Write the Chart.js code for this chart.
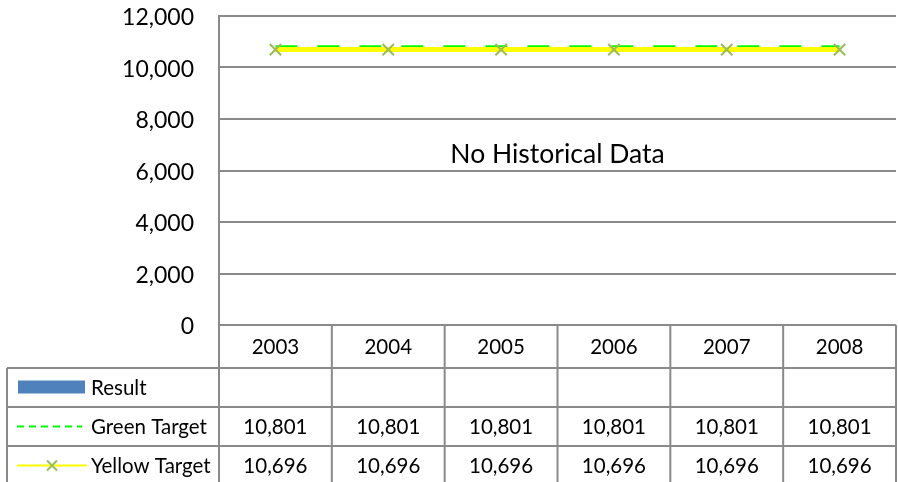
<!DOCTYPE html>
<html>
<head>
<meta charset="utf-8">
<script src="https://cdn.jsdelivr.net/npm/chart.js@4/dist/chart.umd.min.js"></script>
<style>
  html, body { margin: 0; padding: 0; background: #fff; overflow: hidden; }
  #wrap { width: 898px; height: 482px; overflow: hidden; position: relative; }
  canvas { display: block; }
</style>
</head>
<body>
<div id="wrap"><canvas id="chart" width="906" height="482"></canvas></div>
<script>
// chart data
const years = ["2003", "2004", "2005", "2006", "2007", "2008"];
const resultValues = [null, null, null, null, null, null];
const greenTarget = [10801, 10801, 10801, 10801, 10801, 10801];
const yellowTarget = [10696, 10696, 10696, 10696, 10696, 10696];
const yTicks = [0, 2000, 4000, 6000, 8000, 10000, 12000];
const noDataText = "No Historical Data";

const FONT = "Lato";
const LINE = "#8a8a8a";

function fmt(v) {
    return v == null ? "" : v.toLocaleString("en-US");
}

/* -----------------------
   DATA TABLE UNDER PLOT
------------------------ */
const dataTable = {
    id: "dataTable",
    afterDraw(chart) {
        const ctx = chart.ctx;
        const x = chart.scales.x;
        const area = chart.chartArea;
        const half = (x.getPixelForTick(1) - x.getPixelForTick(0)) / 2;
        const right = x.getPixelForTick(years.length - 1) + half;
        const legLeft = 7;
        const catH = 43, rowH = 39;
        const rows = [area.bottom, area.bottom + catH];
        for (let i = 0; i < 3; i++) rows.push(rows[rows.length - 1] + rowH);

        ctx.save();
        ctx.strokeStyle = LINE;
        ctx.lineWidth = 2;
        ctx.beginPath();
        // horizontal lines
        ctx.moveTo(area.left, rows[0]); ctx.lineTo(right, rows[0]);
        for (let r = 1; r < rows.length; r++) {
            ctx.moveTo(legLeft, rows[r]); ctx.lineTo(right, rows[r]);
        }
        // vertical lines
        ctx.moveTo(legLeft, rows[1]); ctx.lineTo(legLeft, rows[4]);
        for (let i = 0; i < years.length; i++) {
            const e = x.getPixelForTick(i) - half;
            ctx.moveTo(e, rows[0]); ctx.lineTo(e, rows[4]);
        }
        ctx.moveTo(right, rows[0]); ctx.lineTo(right, rows[4]);
        ctx.stroke();

        // text
        ctx.fillStyle = "#000";
        ctx.font = "20.5px " + FONT;
        ctx.textAlign = "center";
        ctx.textBaseline = "middle";
        years.forEach((y, i) => {
            ctx.fillText(y, x.getPixelForTick(i), (rows[0] + rows[1]) / 2 + 1);
        });
        const series = [resultValues, greenTarget, yellowTarget];
        series.forEach((vals, r) => {
            const cy = (rows[r + 1] + rows[r + 2]) / 2 + 1;
            vals.forEach((v, i) => ctx.fillText(fmt(v), x.getPixelForTick(i), cy));
        });

        // legend keys
        const ds = chart.data.datasets;
        ctx.textAlign = "left";
        ds.forEach((d, r) => {
            const cy = (rows[r + 1] + rows[r + 2]) / 2;
            ctx.fillStyle = "#000";
            ctx.fillText(d.label, 91, cy + 1);
            if (d.type === "bar") {
                ctx.fillStyle = d.backgroundColor;
                ctx.fillRect(18, cy - 7, 67, 13);
            } else {
                ctx.strokeStyle = d.borderColor;
                ctx.lineWidth = 2;
                ctx.setLineDash(d.borderDash ? [7, 5] : []);
                ctx.beginPath();
                ctx.moveTo(17, cy); ctx.lineTo(d.borderDash ? 82 : 87, cy);
                ctx.stroke();
                ctx.setLineDash([]);
                if (d.pointRadius > 0) {
                    ctx.strokeStyle = d.pointBorderColor;
                    ctx.beginPath();
                    ctx.moveTo(47, cy - 5); ctx.lineTo(57, cy + 5);
                    ctx.moveTo(57, cy - 5); ctx.lineTo(47, cy + 5);
                    ctx.stroke();
                }
            }
        });

        // no data note
        ctx.fillStyle = "#000";
        ctx.font = "26.5px " + FONT;
        ctx.textAlign = "center";
        ctx.fillText(noDataText, (area.left + right) / 2, area.top + (area.bottom - area.top) * 0.447);
        ctx.restore();
    }
};

const chart = new Chart(document.getElementById("chart"), {
    type: "line",
    data: {
        labels: years,
        datasets: [
            {
                type: "bar",
                label: "Result",
                data: resultValues,
                backgroundColor: "#4F81BD",
                order: 3
            },
            {
                label: "Green Target",
                data: greenTarget,
                borderColor: "#00FF00",
                borderWidth: 3,
                borderDash: [22, 20],
                pointRadius: 0,
                fill: false,
                order: 2
            },
            {
                label: "Yellow Target",
                data: yellowTarget,
                borderColor: "#FFFF00",
                borderWidth: 5,
                pointStyle: "crossRot",
                pointRadius: 8,
                pointBorderColor: "#9BBB59",
                pointBorderWidth: 2,
                pointBackgroundColor: "#9BBB59",
                fill: false,
                order: 1
            }
        ]
    },
    options: {
        responsive: false,
        animation: false,
        layout: { padding: { top: 16, right: 3, bottom: 157, left: 0 } },
        plugins: {
            legend: { display: false },
            tooltip: { enabled: false }
        },
        scales: {
            x: {
                display: false,
                offset: true
            },
            y: {
                min: 0,
                max: 12000,
                afterBuildTicks: s => { s.ticks = yTicks.map(v => ({ value: v })); },
                afterFit: s => {
                    s.width = 219;
                    s.paddingTop = 0;
                    s.paddingBottom = 0;
                },
                ticks: {
                    color: "#000",
                    font: { family: FONT, size: 23 },
                    padding: 25,
                    labelOffset: 2,
                    callback: v => fmt(v)
                },
                grid: { color: LINE, lineWidth: 2, drawTicks: false },
                border: { color: LINE, width: 2 }
            }
        }
    },
    plugins: [dataTable]
});
</script>
</body>
</html>
